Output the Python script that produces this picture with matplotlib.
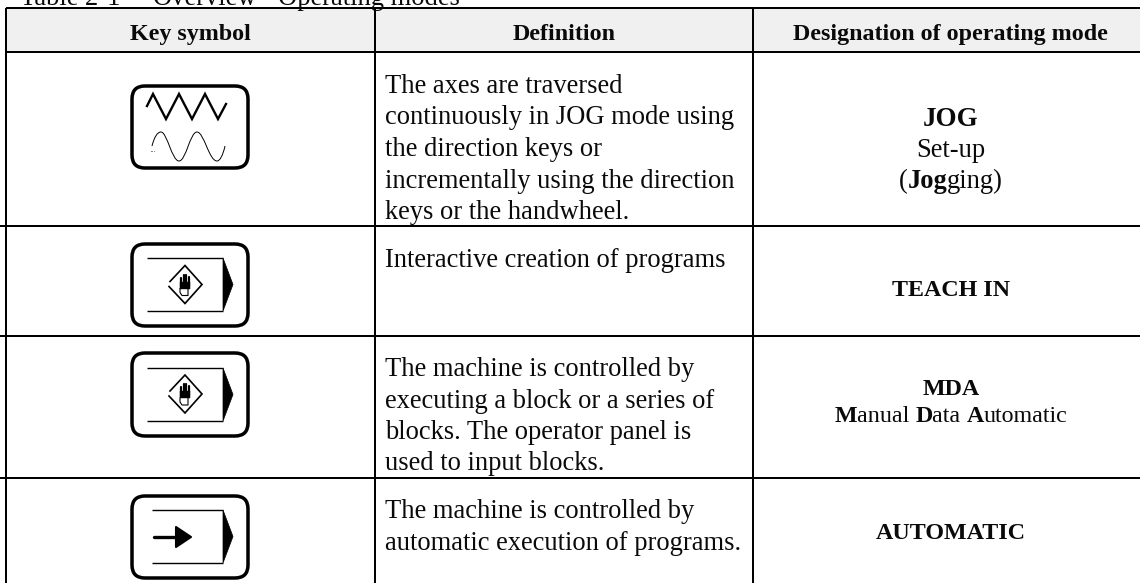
import matplotlib
matplotlib.use('Agg')
import matplotlib.pyplot as plt
from matplotlib.patches import FancyBboxPatch, Polygon, PathPatch, Rectangle
from matplotlib.path import Path

plt.rcParams['font.family'] = ['Liberation Serif', 'DejaVu Serif']
PX = 0.72  # px -> pt at dpi 100

headers = ['Key symbol', 'Definition', 'Designation of operating mode']
col_lines = [6, 375, 753]
row_lines = [8, 52, 226, 336, 478]
definitions = [
    ['The axes are traversed', 'continuously in JOG mode using', 'the direction keys or',
     'incrementally using the direction', 'keys or the handwheel.'],
    ['Interactive creation of programs'],
    ['The machine is controlled by', 'executing a block or a series of',
     'blocks. The operator panel is', 'used to input blocks.'],
    ['The machine is controlled by', 'automatic execution of programs.'],
]
def_baselines = [93, 267, 376, 518]
designations = [
    (126, 27, [('JOG', 'bold')]),
    (157, 26.5, [('Set-up', 'normal')]),
    (188, 26.5, [('(', 'normal'), ('Jog', 'bold'), ('ging)', 'normal')]),
    (296, 24, [('TEACH IN', 'bold')]),
    (395, 24, [('MDA', 'bold')]),
    (422, 24, [('M', 'bold'), ('anual ', 'normal'), ('D', 'bold'), ('ata ', 'normal'),
               ('A', 'bold'), ('utomatic', 'normal')]),
    (539, 24, [('AUTOMATIC', 'bold')]),
]
title_parts = [(20, 'Table 2-1'), (153, 'Overview'), (257, '-'), (278, 'Operating modes')]

key_boxes = [(132, 86, 116, 82), (132, 244, 116, 82), (132, 353, 116, 83), (132, 496, 116, 82)]
zigzag = [(147, 106), (153, 94), (166, 119), (179, 94), (192, 119), (205, 94), (218, 119), (226, 104)]
sine = [(152, 146), (154, 138), (157, 132), (161, 132), (167, 132), (172, 161), (179, 161),
        (186, 161), (190, 132), (197, 132), (204, 132), (209, 161), (217, 161),
        (220, 161), (223, 155), (225, 146)]

fig = plt.figure(figsize=(11.4, 5.83), dpi=100)
ax = fig.add_axes([0, 0, 1, 1])
ax.set_xlim(0, 1140)
ax.set_ylim(583, 0)
ax.axis('off')
renderer = fig.canvas.get_renderer()


def width(s, size, weight):
    # measured with a bar after it so trailing spaces count
    t1 = ax.text(0, 0, s + '|', fontsize=size * PX, fontweight=weight)
    t2 = ax.text(0, 0, '|', fontsize=size * PX, fontweight=weight)
    w = t1.get_window_extent(renderer).width - t2.get_window_extent(renderer).width
    t1.remove()
    t2.remove()
    return w


def rich(cx, y, size, parts):
    ws = [width(s, size, wt) for s, wt in parts]
    x = cx - sum(ws) / 2
    for (s, wt), w in zip(parts, ws):
        ax.text(x, y, s, fontsize=size * PX, fontweight=wt, va='baseline', ha='left', color='#0a0a0a')
        x += w


def inner_frame(x0, x1, top, bot, tip):
    ax.plot([x0, x1], [top, top], color='k', lw=1.0, solid_capstyle='butt')
    ax.plot([x0, x1], [bot, bot], color='k', lw=1.0, solid_capstyle='butt')
    ax.add_patch(Polygon([(x1, top), (tip, (top + bot) / 2), (x1, bot)], closed=True, fc='k', ec='k', lw=0.5))


def hand_symbol(cx, cy):
    ax.plot([cx - 16, cx, cx + 17, cx, cx - 15], [cy + 2, cy + 19, cy, cy - 19, cy - 3],
            color='k', lw=1.2, solid_joinstyle='miter')
    for dx, top in [(-4, -7), (-1.5, -10), (1, -10), (3.5, -8)]:
        ax.plot([cx + dx, cx + dx], [cy + top, cy + 2], color='k', lw=1.6, solid_capstyle='round')
    ax.add_patch(Rectangle((cx - 5, cy - 3), 10, 7, fc='k', ec='k', lw=0.3))
    ax.plot([cx - 5, cx - 5, cx - 3, cx + 3, cx + 3], [cy + 4, cy + 8, cy + 11, cy + 11, cy + 4],
            color='k', lw=0.8)


# table
ax.add_patch(Rectangle((col_lines[0], row_lines[0]), 1140 - col_lines[0], row_lines[1] - row_lines[0],
                       fc='#f0f0f0', ec='none', zorder=0))
for y in row_lines:
    ax.plot([0 if y > 52 else col_lines[0], 1140], [y, y], color='k', lw=2 * PX, solid_capstyle='butt', zorder=3)
for x in col_lines:
    ax.plot([x, x], [row_lines[0], 583], color='k', lw=2 * PX, solid_capstyle='butt', zorder=3)

# title, cut off at the top edge like the source
for x, s in title_parts:
    ax.text(x, 5, s, fontsize=26.5 * PX, va='baseline', ha='left', color='#0a0a0a')

# header
header_x = [190, 564, 950]
for x, s in zip(header_x, headers):
    ax.text(x, 40, s, fontsize=24 * PX, fontweight='bold', ha='center', va='baseline', color='#0a0a0a')

# definitions
for lines, y0 in zip(definitions, def_baselines):
    for i, line in enumerate(lines):
        ax.text(385, y0 + i * 31.5, line, fontsize=26.5 * PX, va='baseline', ha='left', color='#0a0a0a')

# designations
for y, size, parts in designations:
    rich(951, y, size, parts)

# keys
for x, y, w, h in key_boxes:
    ax.add_patch(FancyBboxPatch((x + 10, y + 10), w - 20, h - 20, boxstyle='round,pad=10,rounding_size=13',
                                fc='white', ec='k', lw=3.5 * PX))
ax.plot(*zip(*zigzag), color='k', lw=1.7, solid_joinstyle='miter')
codes = [Path.MOVETO] + [Path.CURVE4] * (len(sine) - 1)
ax.add_patch(PathPatch(Path(sine, codes), fc='none', ec='k', lw=0.7))
ax.plot([150.5, 153.5], [151, 151], color='k', lw=0.7, ls=':')

inner_frame(147, 223, 258, 311, 233)
hand_symbol(185, 284.5)
inner_frame(147, 223, 368, 421, 233)
hand_symbol(185, 394)
inner_frame(152, 223, 510, 563, 233)
ax.plot([154, 178], [537, 537], color='k', lw=2.4, solid_capstyle='round')
ax.add_patch(Polygon([(176, 527), (191, 537), (176, 547)], closed=True, fc='k', ec='k', lw=1.5, joinstyle='round'))

fig.savefig('out.png', dpi=100)
